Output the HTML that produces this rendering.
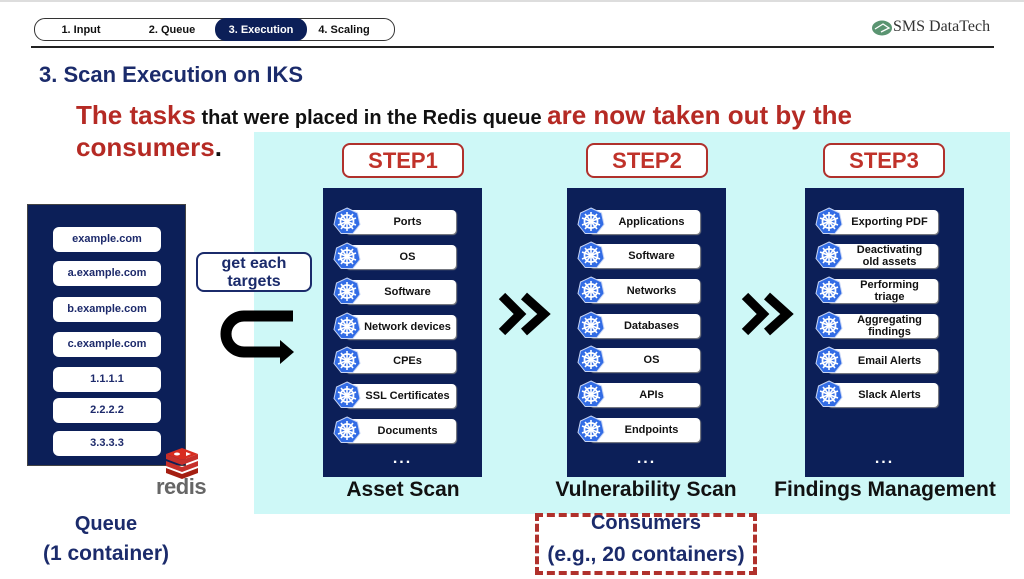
<!DOCTYPE html>
<html><head><meta charset="utf-8"><style>
*{margin:0;padding:0;box-sizing:border-box}
body{width:1024px;height:579px;position:relative;background:#fff;font-family:"Liberation Sans",sans-serif;overflow:hidden}
.a{position:absolute}
.tab{position:absolute;top:19px;height:22px;font-size:11px;font-weight:bold;text-align:center;line-height:22px;color:#111}
.panel{position:absolute;top:188px;width:159px;height:289px;background:#0c1f58}
.item{position:absolute;left:22px;width:111px;height:24px;background:#fff;border-radius:4px;font-size:11px;font-weight:bold;color:#111;text-align:center;line-height:24px;padding-left:14px;box-shadow:1px 1px 1px #888}
.item.two{line-height:12px;padding-top:0}
.item svg{position:absolute;left:-12px;top:-3px}
.step{position:absolute;top:143px;width:122px;height:35px;border:2px solid #b0312c;border-radius:8px;background:#fff;color:#c0322a;font-size:22px;font-weight:bold;text-align:center;line-height:31px}
.q{position:absolute;left:25px;width:108px;height:25px;background:#fff;border-radius:6px;color:#1d2a6b;font-size:11px;font-weight:bold;text-align:center;line-height:25px}
.dots{position:absolute;left:0;width:159px;top:262px;text-align:center;color:#fff;font-size:16px;font-weight:bold;letter-spacing:2px}
.cap{position:absolute;top:478px;font-size:21px;font-weight:bold;color:#111;text-align:center;white-space:nowrap}
</style></head><body>
<svg width="0" height="0" style="position:absolute"><defs>
<g id="k8">
<polygon points="14,1 24.5,6 27,17.5 19.8,26.5 8.2,26.5 1,17.5 3.5,6" fill="#326ce5" stroke="#c9d6f5" stroke-width="1"/>
<circle cx="14" cy="14.5" r="6.5" fill="none" stroke="#fff" stroke-width="1.8"/>
<g stroke="#fff" stroke-width="1.6">
<line x1="14" y1="5" x2="14" y2="24"/><line x1="5" y1="11" x2="23" y2="18"/><line x1="23" y1="11" x2="5" y2="18"/>
<line x1="8" y1="22" x2="20" y2="7"/><line x1="8" y1="7" x2="20" y2="22"/></g>
<circle cx="14" cy="14.5" r="2" fill="#fff"/>
</g></defs></svg>

<div class="a" style="left:0;top:0;width:1024px;height:2px;background:#ddd"></div>
<div class="a" style="left:34px;top:18px;width:361px;height:23px;border:1px solid #333;border-radius:11px"></div>
<div class="a" style="left:215px;top:18px;width:92px;height:23px;background:#0c1f58;border-radius:11px"></div>
<div class="tab" style="left:34px;width:94px">1. Input</div>
<div class="tab" style="left:128px;width:88px">2. Queue</div>
<div class="tab" style="left:215px;width:92px;color:#fff">3. Execution</div>
<div class="tab" style="left:305px;width:78px">4. Scaling</div>
<div class="a" style="left:31px;top:46px;width:963px;height:2px;background:#222"></div>
<svg class="a" style="left:871px;top:20px" width="22" height="16"><ellipse cx="11" cy="8" rx="10" ry="7.5" fill="#5a9471"/><path d="M4 9 L12 4 L18 8 L10 12" stroke="#fff" stroke-width="1.3" fill="none"/></svg>
<div class="a" style="left:893px;top:18px;font-family:'Liberation Serif',serif;font-size:16px;color:#333">SMS DataTech</div>

<div class="a" style="left:39px;top:62px;font-size:22px;font-weight:bold;color:#1b2b6b">3. Scan Execution on IKS</div>
<div class="a" style="left:76px;top:100px;font-size:20px;font-weight:bold;color:#111;white-space:nowrap"><span style="color:#b52a24;font-size:26px">The tasks</span> that were placed in the Redis queue <span style="color:#b52a24;font-size:26px">are now taken out by the</span></div>
<div class="a" style="left:76px;top:132px;font-size:26px;font-weight:bold;color:#b52a24">consumers<span style="color:#111">.</span></div>

<div class="a" style="left:254px;top:132px;width:756px;height:382px;background:#cef8f7"></div>

<div class="a" style="left:27px;top:204px;width:159px;height:262px;background:#0c1f58;border:1px solid #444">
<div class="q" style="top:22px">example.com</div>
<div class="q" style="top:56px">a.example.com</div>
<div class="q" style="top:92px">b.example.com</div>
<div class="q" style="top:127px">c.example.com</div>
<div class="q" style="top:162px">1.1.1.1</div>
<div class="q" style="top:193px">2.2.2.2</div>
<div class="q" style="top:226px">3.3.3.3</div>
</div>
<svg class="a" style="left:164px;top:446px" width="36" height="34">
<path d="M2 22 L18 28 L34 22 L34 27 L18 33 L2 27Z" fill="#a41e11"/>
<path d="M2 15 L18 21 L34 15 L34 20 L18 26 L2 20Z" fill="#c6302b"/>
<path d="M2 8 L18 14 L34 8 L34 13 L18 19 L2 13Z" fill="#c6302b"/>
<path d="M2 8 L18 2 L34 8 L18 14Z" fill="#d82c20"/>
<ellipse cx="13" cy="8" rx="3" ry="1.5" fill="#fff"/><path d="M22 6 L27 8 L22 10Z" fill="#fff"/>
</svg>
<div class="a" style="left:156px;top:474px;font-size:22px;color:#666;font-weight:bold;letter-spacing:-0.5px">redis</div>
<div class="a" style="left:46px;top:513px;width:120px;text-align:center;font-size:20px;font-weight:bold;color:#1b2b6b">Queue</div>
<div class="a" style="left:26px;top:542px;width:160px;text-align:center;font-size:21px;font-weight:bold;color:#1b2b6b;white-space:nowrap">(1 container)</div>

<div class="a" style="left:196px;top:252px;width:116px;height:40px;border:2px solid #1b2b6b;border-radius:8px;background:#fff;text-align:center;font-size:16px;font-weight:bold;color:#1b2b6b;line-height:18px;padding-top:1px">get each<br>targets</div>
<svg class="a" style="left:214px;top:306px" width="82" height="68">
<path d="M79 10 L30 10 A18 18 0 0 0 30 46 L68 46" stroke="#000" stroke-width="11" fill="none"/>
<polygon points="66,34 80,46 66,58" fill="#000"/>
</svg>

<svg class="a" style="left:498px;top:290px" width="58" height="50"><path d="M4 6 L22 24 L4 42 M26 6 L46 24 L26 42" stroke="#000" stroke-width="9" fill="none"/></svg>
<svg class="a" style="left:741px;top:290px" width="58" height="50"><path d="M4 6 L22 24 L4 42 M26 6 L46 24 L26 42" stroke="#000" stroke-width="9" fill="none"/></svg>

<div class="step" style="left:342px">STEP1</div>
<div class="panel" style="left:323px">
<div class="item" style="top:22px"><svg width="28" height="28"><use href="#k8"/></svg>Ports</div>
<div class="item" style="top:57px"><svg width="28" height="28"><use href="#k8"/></svg>OS</div>
<div class="item" style="top:92px"><svg width="28" height="28"><use href="#k8"/></svg>Software</div>
<div class="item" style="top:127px"><svg width="28" height="28"><use href="#k8"/></svg>Network devices</div>
<div class="item" style="top:161px"><svg width="28" height="28"><use href="#k8"/></svg>CPEs</div>
<div class="item" style="top:196px"><svg width="28" height="28"><use href="#k8"/></svg>SSL Certificates</div>
<div class="item" style="top:231px"><svg width="28" height="28"><use href="#k8"/></svg>Documents</div>
<div class="dots">...</div>
</div>
<div class="cap" style="left:303px;width:200px">Asset Scan</div>

<div class="step" style="left:586px">STEP2</div>
<div class="panel" style="left:567px">
<div class="item" style="top:22px"><svg width="28" height="28"><use href="#k8"/></svg>Applications</div>
<div class="item" style="top:56px"><svg width="28" height="28"><use href="#k8"/></svg>Software</div>
<div class="item" style="top:91px"><svg width="28" height="28"><use href="#k8"/></svg>Networks</div>
<div class="item" style="top:126px"><svg width="28" height="28"><use href="#k8"/></svg>Databases</div>
<div class="item" style="top:160px"><svg width="28" height="28"><use href="#k8"/></svg>OS</div>
<div class="item" style="top:195px"><svg width="28" height="28"><use href="#k8"/></svg>APIs</div>
<div class="item" style="top:230px"><svg width="28" height="28"><use href="#k8"/></svg>Endpoints</div>
<div class="dots">...</div>
</div>
<div class="cap" style="left:536px;width:220px">Vulnerability Scan</div>

<div class="step" style="left:823px">STEP3</div>
<div class="panel" style="left:805px">
<div class="item" style="top:22px"><svg width="28" height="28"><use href="#k8"/></svg>Exporting PDF</div>
<div class="item two" style="top:56px"><svg width="28" height="28"><use href="#k8"/></svg>Deactivating<br>old assets</div>
<div class="item two" style="top:91px"><svg width="28" height="28"><use href="#k8"/></svg>Performing<br>triage</div>
<div class="item two" style="top:126px"><svg width="28" height="28"><use href="#k8"/></svg>Aggregating<br>findings</div>
<div class="item" style="top:161px"><svg width="28" height="28"><use href="#k8"/></svg>Email Alerts</div>
<div class="item" style="top:195px"><svg width="28" height="28"><use href="#k8"/></svg>Slack Alerts</div>
<div class="dots">...</div>
</div>
<div class="cap" style="left:755px;width:260px">Findings Management</div>

<div class="a" style="left:535px;top:513px;width:222px;height:62px;border:4px dashed #b0312c"></div>
<div class="a" style="left:525px;top:512px;width:242px;text-align:center;font-size:20px;font-weight:bold;color:#1b2b6b">Consumers</div>
<div class="a" style="left:515px;top:543px;width:262px;text-align:center;font-size:21px;font-weight:bold;color:#1b2b6b;white-space:nowrap">(e.g., 20 containers)</div>
</body></html>
